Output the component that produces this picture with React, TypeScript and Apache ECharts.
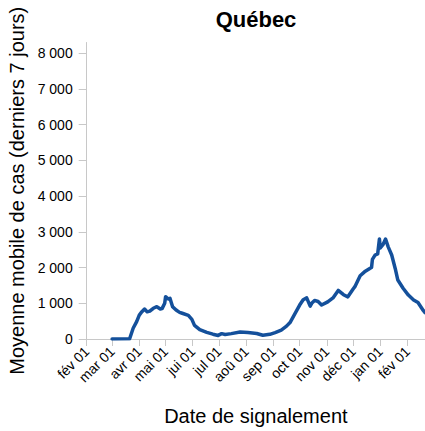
import React, { useEffect, useRef } from "react";
import * as echarts from "echarts";

const titleText = "Québec";
const yAxisTitle = "Moyenne mobile de cas (derniers 7 jours)";
const xAxisTitle = "Date de signalement";
const monthNames = ["jan", "fév", "mar", "avr", "mai", "jui", "jul", "aoû", "sep", "oct", "nov", "déc"];
const xMin = "2020-02-01";
const xMax = "2021-02-21";
const yMax = 8300;
const yStep = 1000;

const dates = [
  "2020-03-01", "2020-03-21", "2020-03-25", "2020-03-29", "2020-04-01", "2020-04-04", "2020-04-07",
  "2020-04-10", "2020-04-13", "2020-04-17", "2020-04-21", "2020-04-25", "2020-04-27", "2020-04-30",
  "2020-05-01", "2020-05-04", "2020-05-06", "2020-05-09", "2020-05-13", "2020-05-17", "2020-05-20",
  "2020-05-27", "2020-05-31", "2020-06-03", "2020-06-09", "2020-06-17", "2020-06-24", "2020-06-30",
  "2020-07-04", "2020-07-08", "2020-07-15", "2020-07-25", "2020-08-03", "2020-08-13", "2020-08-20",
  "2020-08-28", "2020-09-03", "2020-09-10", "2020-09-16", "2020-09-20", "2020-09-25", "2020-10-01",
  "2020-10-05", "2020-10-09", "2020-10-13", "2020-10-15", "2020-10-18", "2020-10-22", "2020-10-26",
  "2020-11-02", "2020-11-08", "2020-11-14", "2020-11-20", "2020-11-25", "2020-12-01", "2020-12-03",
  "2020-12-09", "2020-12-14", "2020-12-20", "2020-12-22", "2020-12-23", "2020-12-26", "2020-12-29",
  "2020-12-31", "2021-01-01", "2021-01-04", "2021-01-07", "2021-01-10", "2021-01-14", "2021-01-18",
  "2021-01-21", "2021-01-27", "2021-02-02", "2021-02-08", "2021-02-13", "2021-02-19", "2021-02-21",
];

const cases = [
  0, 5, 300, 485, 670, 765, 840,
  760, 780, 860, 905, 840, 850, 1000,
  1185, 1120, 1140, 905, 810, 745, 720,
  660, 550, 380, 260, 185, 135, 100,
  150, 125, 150, 195, 180, 155, 105,
  130, 180, 250, 360, 460, 680, 950,
  1100, 1150, 920, 1010, 1080, 1050, 950,
  1040, 1150, 1360, 1240, 1180, 1400, 1465,
  1770, 1880, 1975, 2000, 2230, 2350, 2380,
  2800, 2550, 2640, 2800, 2580, 2350, 1975,
  1650, 1420, 1230, 1090, 1020, 800, 740,
];

const FONT = "'Liberation Sans', Arial, Helvetica, sans-serif";

function fmtThousands(v: number): string {
  return String(v).replace(/\B(?=(\d{3})+(?!\d))/g, " ");
}

export default function App() {
  const ref = useRef<HTMLDivElement>(null);
  useEffect(() => {
    if (!ref.current) return;
    const chart = echarts.init(ref.current, null, { renderer: "svg" });
    chart.setOption({
      animation: false,
      backgroundColor: "#ffffff",
      title: {
        text: titleText,
        left: 256,
        top: 8,
        padding: 0,
        textAlign: "center",
        textStyle: { fontFamily: FONT, fontSize: 22, fontWeight: "bold", color: "#000" },
      },
      grid: { left: 86.7, right: 0, top: 42.5, bottom: 92, containLabel: false, outerBoundsMode: "none" },
      xAxis: {
        type: "time",
        min: xMin,
        max: xMax,
        splitNumber: 13,
        minInterval: 28 * 86400000,
        maxInterval: 31 * 86400000,
        name: xAxisTitle,
        nameLocation: "middle",
        nameGap: 67,
        nameTextStyle: { fontFamily: FONT, fontSize: 20, color: "#000" },
        axisLine: { show: true, lineStyle: { color: "#c8c8c8", width: 1 } },
        axisTick: { show: true, length: 7, lineStyle: { color: "#c8c8c8" } },
        splitLine: { show: false },
        axisLabel: {
          rotate: 45,
          margin: 10,
          fontFamily: FONT,
          fontSize: 14,
          color: "#000",
          showMaxLabel: false,
          hideOverlap: false,
          formatter: (val: number) => {
            const d = new Date(val);
            if (d.getDate() !== 1) return "";
            return monthNames[d.getMonth()] + " 01";
          },
        },
      },
      yAxis: {
        type: "value",
        min: 0,
        max: yMax,
        interval: yStep,
        name: yAxisTitle,
        nameLocation: "middle",
        nameGap: 58,
        nameTextStyle: { fontFamily: FONT, fontSize: 20, color: "#000" },
        axisLine: { show: true, lineStyle: { color: "#c8c8c8", width: 1 } },
        axisTick: { show: true, length: 8, lineStyle: { color: "#c8c8c8" } },
        splitLine: { show: false },
        axisLabel: {
          margin: 14,
          fontFamily: FONT,
          fontSize: 14,
          color: "#000",
          showMaxLabel: false,
          formatter: (v: number) => fmtThousands(v),
        },
      },
      series: [
        {
          type: "line",
          data: dates.map((d, i) => [d, cases[i]]),
          showSymbol: false,
          symbol: "none",
          lineStyle: { color: "#14509b", width: 3.5, join: "round", cap: "round" },
          itemStyle: { color: "#14509b" },
        },
      ],
    });
    return () => chart.dispose();
  }, []);
  return <div ref={ref} style={{ position: "fixed", left: 0, top: 0, width: 425, height: 431 }} />;
}
